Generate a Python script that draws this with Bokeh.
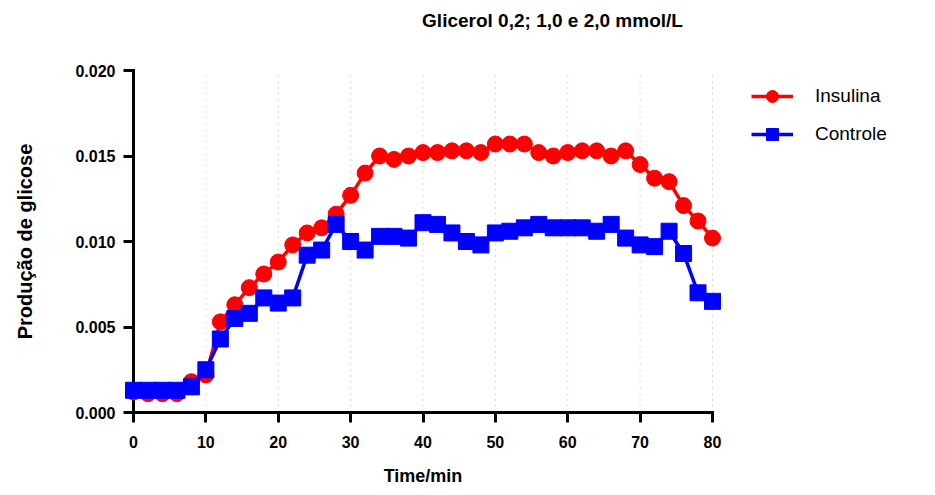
from bokeh.plotting import figure
from bokeh.models import (Range1d, FixedTicker, Legend, LegendItem, PrintfTickFormatter,
                          LinearAxis, Label)
from bokeh.embed import file_html
from bokeh.resources import INLINE

# ---- data ----
time_min = list(range(0, 82, 2))
insulina = [0.0012, 0.0011, 0.0011, 0.0011, 0.0018, 0.0022, 0.0053, 0.0063, 0.0073, 0.0081,
            0.0088, 0.0098, 0.0105, 0.0108, 0.0116, 0.0127, 0.0140, 0.0150, 0.0148, 0.0150,
            0.0152, 0.0152, 0.0153, 0.0153, 0.0152, 0.0157, 0.0157, 0.0157, 0.0152, 0.0150,
            0.0152, 0.0153, 0.0153, 0.0150, 0.0153, 0.0145, 0.0137, 0.0135, 0.0121, 0.0112,
            0.0102]
controle = [0.0013, 0.0013, 0.0013, 0.0013, 0.0015, 0.0025, 0.0043, 0.0055, 0.0058, 0.0067,
            0.0064, 0.0067, 0.0092, 0.0095, 0.0110, 0.0100, 0.0095, 0.0103, 0.0103, 0.0102,
            0.0111, 0.0110, 0.0105, 0.0100, 0.0098, 0.0105, 0.0106, 0.0108, 0.0110, 0.0108,
            0.0108, 0.0108, 0.0106, 0.0110, 0.0102, 0.0098, 0.0097, 0.0106, 0.0093, 0.0070,
            0.0065]
x_ticks = [0, 10, 20, 30, 40, 50, 60, 70, 80]
y_ticks = [0.0, 0.005, 0.010, 0.015, 0.020]
x_bounds = (0, 80)
y_bounds = (0.0, 0.020)
series_names = ["Insulina", "Controle"]
title_text = "Glicerol 0,2; 1,0 e 2,0 mmol/L"
x_label = "Time/min"
y_label = "Produção de glicose"

FONT = "Liberation Sans"

# ---- layout: the frame covers the whole canvas; axes sit at fixed data locations ----
W, H = 919, 487
PX_LEFT, PX_RIGHT, PX_TOP, PX_BOTTOM = 133, 712, 70, 412   # where the axis bounds land
sx = (PX_RIGHT - PX_LEFT) / (x_bounds[1] - x_bounds[0])
sy = (PX_BOTTOM - PX_TOP) / (y_bounds[1] - y_bounds[0])
x_range = Range1d(x_bounds[0] - PX_LEFT / sx, x_bounds[1] + (W - PX_RIGHT) / sx)
y_range = Range1d(y_bounds[0] - (H - PX_BOTTOM) / sy, y_bounds[1] + PX_TOP / sy)

p = figure(width=W, height=H, output_backend="svg", toolbar_location=None,
           x_range=x_range, y_range=y_range, x_axis_location=None, y_axis_location=None,
           min_border=0)
p.outline_line_color = None
p.background_fill_color = "white"
p.xgrid.grid_line_color = None
p.ygrid.grid_line_color = None

# dotted vertical grid limited to the axis box
p.segment(x0=x_ticks, y0=[y_bounds[0]] * len(x_ticks), x1=x_ticks, y1=[y_bounds[1]] * len(x_ticks),
          line_color="#b4b4b4", line_width=1, line_dash="1 5", level="underlay")

def style_axis(ax):
    ax.axis_line_width = 3
    ax.axis_line_color = "black"
    ax.axis_line_cap = "square"
    ax.major_tick_line_width = 3
    ax.major_tick_line_color = "black"
    ax.major_tick_out = 10
    ax.major_tick_in = 0
    ax.minor_tick_line_color = None
    ax.major_label_text_font = FONT
    ax.major_label_text_font_style = "bold"
    ax.major_label_text_font_size = "16px"
    ax.major_label_text_color = "black"
    ax.axis_label_text_font = FONT
    ax.axis_label_text_font_style = "bold"
    ax.axis_label_text_color = "black"

xa = LinearAxis(ticker=FixedTicker(ticks=x_ticks), bounds=x_bounds, fixed_location=y_bounds[0],
                axis_label=x_label)
style_axis(xa)
xa.major_label_standoff = 13
xa.axis_label_text_font_size = "18px"
xa.axis_label_standoff = 15
p.add_layout(xa, "below")

ya = LinearAxis(ticker=FixedTicker(ticks=y_ticks), bounds=y_bounds, fixed_location=x_bounds[0],
                formatter=PrintfTickFormatter(format="%.3f"), axis_label=y_label)
style_axis(ya)
ya.major_label_standoff = 8
ya.axis_label_text_font_size = "20px"
ya.axis_label_standoff = 36
p.add_layout(ya, "left")

# ---- data ----
l1 = p.line(time_min, insulina, line_color="#ff0000", line_width=3.5, level="overlay")
s1 = p.scatter(time_min, insulina, marker="circle", size=16, fill_color="#ff0000",
               line_color="#ff0000", level="overlay")
l2 = p.line(time_min, controle, line_color="#0000ff", line_width=3.5, level="overlay")
s2 = p.scatter(time_min, controle, marker="square", size=16, fill_color="#0000ff",
               line_color="#0000ff", level="overlay")

legend = Legend(items=[LegendItem(label=series_names[0], renderers=[l1, s1]),
                       LegendItem(label=series_names[1], renderers=[l2, s2])],
                location=(751, 338), glyph_width=42, glyph_height=30, label_standoff=22,
                spacing=8, padding=0, margin=0, border_line_alpha=0, background_fill_alpha=0,
                label_text_font=FONT, label_text_font_size="19px", label_text_color="black")
p.add_layout(legend)

title = Label(x=552, y=H - 20, x_units="screen", y_units="screen", text=title_text,
              text_font=FONT, text_font_style="bold", text_font_size="19px",
              text_align="center", text_baseline="middle", text_color="black")
p.add_layout(title)

open("out.html", "w").write(file_html(p, INLINE))
